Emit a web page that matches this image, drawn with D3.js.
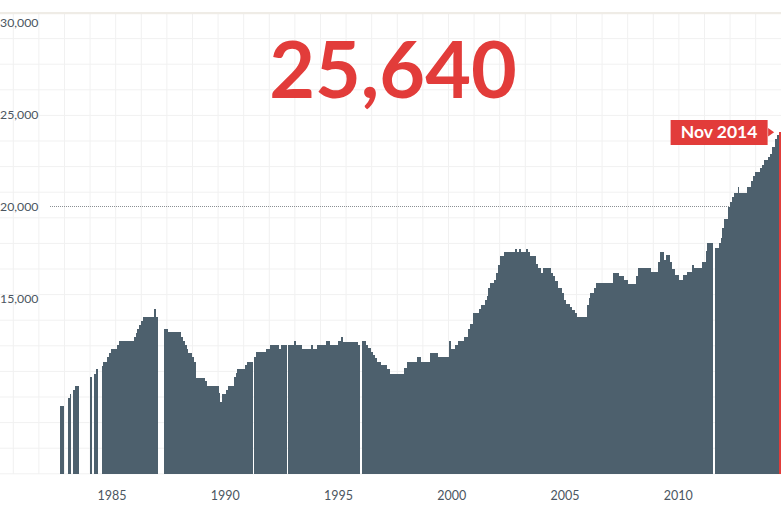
<!DOCTYPE html>
<html>
<head>
<meta charset="utf-8">
<script src="https://cdn.jsdelivr.net/npm/d3@7"></script>
<style>
  html, body { margin: 0; padding: 0; background: #ffffff; }
  svg { display: block; }
</style>
</head>
<body>
<svg id="chart" width="781" height="515"></svg>
<script>
// ---------- DATA ----------
// Monthly series stored as level runs: each run starts at runStart and lasts until the next run start.
// null = month without data (drawn as a gap).
const firstMonth = "1983-01";
const lastMonth = "2014-11";
const runStart = [
  "1983-02","1983-04","1983-06","1983-07","1983-08","1983-09","1983-10","1983-12",
  "1984-06","1984-07","1984-08","1984-09","1984-10","1984-12",
  "1985-01","1985-03","1985-04","1985-05","1985-08","1985-09",
  "1986-05","1986-06","1986-07","1986-08","1986-09","1986-10",
  "1987-04","1987-05","1987-06","1987-09","1987-11",
  "1988-06","1988-07","1988-08","1988-09","1988-10","1988-12",
  "1989-01","1989-02","1989-07","1989-08",
  "1990-02","1990-03","1990-04","1990-06","1990-07","1990-10","1990-11","1990-12",
  "1991-04","1991-05","1991-08","1991-09","1991-10",
  "1992-03","1992-05","1992-10","1992-11",
  "1993-02","1993-03","1993-06","1993-07","1993-10",
  "1994-03","1994-04","1994-06","1994-11",
  "1995-01","1995-05","1995-07","1995-08",
  "1996-04","1996-05","1996-06","1996-08","1996-09","1996-11","1996-12",
  "1997-01","1997-02","1997-04","1997-07","1997-09",
  "1998-04","1998-06","1998-11",
  "1999-01","1999-06","1999-10",
  "2000-04","2000-05","2000-07","2000-09","2000-12",
  "2001-02","2001-03","2001-05","2001-08","2001-09","2001-11","2001-12",
  "2002-01","2002-02","2002-04","2002-05","2002-06","2002-07","2002-09",
  "2003-03","2003-04","2003-05","2003-06","2003-09","2003-10","2003-11",
  "2004-02","2004-03","2004-05","2004-06","2004-10","2004-11","2004-12",
  "2005-02","2005-04","2005-05","2005-06","2005-08","2005-09","2005-11","2005-12",
  "2006-05","2006-06","2006-07","2006-09","2006-10",
  "2007-07","2007-10",
  "2008-01","2008-03","2008-07","2008-08",
  "2009-03","2009-07","2009-08","2009-10","2009-11",
  "2010-01","2010-02","2010-04","2010-06","2010-08","2010-10",
  "2011-01","2011-02","2011-06","2011-08","2011-09","2011-12",
  "2012-01","2012-03","2012-04","2012-05","2012-06","2012-08","2012-09","2012-10","2012-11",
  "2013-01","2013-02","2013-06","2013-08","2013-09","2013-10",
  "2014-01","2014-02","2014-03","2014-05","2014-06","2014-07","2014-09","2014-10","2014-11"
];
const runValue = [
  9130,null,9580,9770,null,10000,10220,null,
  10690,null,10870,11125,null,11320,
  11505,11780,12030,12210,12445,12660,
  12865,13080,13300,13530,13750,13970,
  14420,13970,null,13315,13135,
  12895,12680,12445,12230,11995,11780,
  11540,10680,10490,10235,
  9820,9365,9765,10000,10235,10690,10910,11125,
  11360,11540,null,11780,12050,
  12210,12445,12210,12445,
  null,12445,12660,12445,12210,
  12445,12210,12445,12660,
  12445,12660,12865,12635,
  12445,null,12660,12445,12265,12080,11900,
  11725,11540,11360,11125,10870,
  11180,11505,11780,
  11540,11995,11810,
  12660,12210,12445,12660,12895,
  13300,13570,14200,14385,14620,14890,15110,
  15525,15800,15980,16395,16830,17300,17485,
  17700,17485,17700,17485,17700,17485,17300,
  16850,16615,16395,16615,16395,16195,15940,
  15525,15255,14890,14675,14525,14350,14200,13985,
  14620,14985,15255,15525,15800,
  16395,16195,
  15980,15745,16195,16615,
  16430,16975,17515,17065,17335,
  16975,16575,16250,15980,16250,16430,
  16830,16615,16975,17555,17975,null,
  17735,17975,18275,18790,19330,19960,20235,20505,20745,
  21050,20745,21050,21360,21630,21865,
  22080,22265,22500,22680,22865,23225,23680,23900,24050
];
const yTicks = [15000, 20000, 25000, 30000];
const xTickYears = ["1985","1990","1995","2000","2005","2010"];
const headlineValue = "25,640";
const currentLabel = "Nov 2014";
const referenceLevel = 20000;

// ---------- EXPAND RUNS TO MONTHS ----------
const parseM = d3.timeParse("%Y-%m");
const fmtM = d3.timeFormat("%Y-%m");
const months = d3.timeMonth.range(parseM(firstMonth), d3.timeMonth.offset(parseM(lastMonth), 1)).map(fmtM);
const startIndex = new Map(runStart.map((s, i) => [s, i]));
let cur = null;
const series = months.map(m => {
  if (startIndex.has(m)) cur = runValue[startIndex.get(m)];
  return { month: m, value: cur };
});

// ---------- LAYOUT ----------
const W = 781, H = 515;
const plotTop = 13, baseY = 474;
const svg = d3.select("#chart");
const RED = "#e23c3a", BAR = "#4d606d", TXT = "#4b5661";

const x = d3.scaleBand().domain(months).range([58.2, 781]).paddingInner(0).paddingOuter(0);
const y = d3.scaleLinear().domain([5430, 30000]).range([baseY, 22.5]);

// graph-paper background grid
const grid = svg.append("g");
const gstep = 25.6;
for (let gx = 13.3; gx < W; gx += gstep) {
  grid.append("line").attr("x1", gx).attr("x2", gx).attr("y1", plotTop).attr("y2", baseY)
    .attr("stroke", "#f1f1f1").attr("stroke-width", 1);
}
for (let gy = plotTop + gstep; gy < baseY; gy += gstep) {
  grid.append("line").attr("x1", 0).attr("x2", W).attr("y1", gy).attr("y2", gy)
    .attr("stroke", "#f1f1f1").attr("stroke-width", 1);
}
svg.append("rect").attr("x", 0).attr("y", plotTop - 1).attr("width", W).attr("height", 2.2)
  .attr("fill", "#efece6");

// reference dotted line at 20,000
svg.append("line")
  .attr("x1", 50).attr("x2", W)
  .attr("y1", Math.round(y(referenceLevel)) + 0.5).attr("y2", Math.round(y(referenceLevel)) + 0.5)
  .attr("stroke", "#8a8f93").attr("stroke-width", 1).attr("stroke-dasharray", "1,1");

// bars (one path of monthly columns)
const defined = series.filter(d => d.value !== null);
const last = defined[defined.length - 1];
const pathStr = defined.filter(d => d !== last).map(d => {
  const x0 = x(d.month), x1 = x0 + x.bandwidth();
  return `M${x0},${y(d.value)}H${x1}V${baseY}H${x0}Z`;
}).join("");
svg.append("path").attr("d", pathStr).attr("fill", BAR).attr("shape-rendering", "crispEdges");

// current month highlighted
svg.append("rect")
  .attr("x", x(last.month)).attr("width", x.bandwidth())
  .attr("y", y(last.value)).attr("height", baseY - y(last.value))
  .attr("fill", RED).attr("shape-rendering", "crispEdges");

// y axis labels
svg.append("g").selectAll("text").data(yTicks).join("text")
  .attr("x", 0).attr("y", d => y(d)).attr("dy", "0.36em")
  .attr("font-family", "Lato, 'Open Sans', sans-serif").attr("font-size", 12.3)
  .attr("fill", TXT).text(d3.format(","));

// x axis labels
svg.append("g").selectAll("text").data(xTickYears).join("text")
  .attr("x", d => x(d + "-05") + x.bandwidth() / 2).attr("y", 500)
  .attr("text-anchor", "middle")
  .attr("font-family", "Lato, 'Open Sans', sans-serif").attr("font-size", 12.5)
  .attr("fill", TXT).text(d => d);

// headline number
svg.append("text")
  .attr("x", 393).attr("y", 98).attr("text-anchor", "middle")
  .attr("font-family", "Lato, sans-serif").attr("font-weight", 700).attr("font-size", 79)
  .attr("fill", RED).text(headlineValue);

// current month label
const lx = x(last.month) - 108.5, ly = 120;
svg.append("rect").attr("x", lx).attr("y", ly).attr("width", 97).attr("height", 25).attr("fill", RED);
svg.append("path")
  .attr("d", `M${lx + 97.5},${ly + 8}L${lx + 103.5},${ly + 12.3}L${lx + 97.5},${ly + 16.5}Z`)
  .attr("fill", RED);
svg.append("text")
  .attr("x", lx + 48.5).attr("y", ly + 18.3).attr("text-anchor", "middle")
  .attr("font-family", "Lato, sans-serif").attr("font-weight", 700).attr("font-size", 17.5)
  .attr("fill", "#ffffff").text(currentLabel);
</script>
</body>
</html>
